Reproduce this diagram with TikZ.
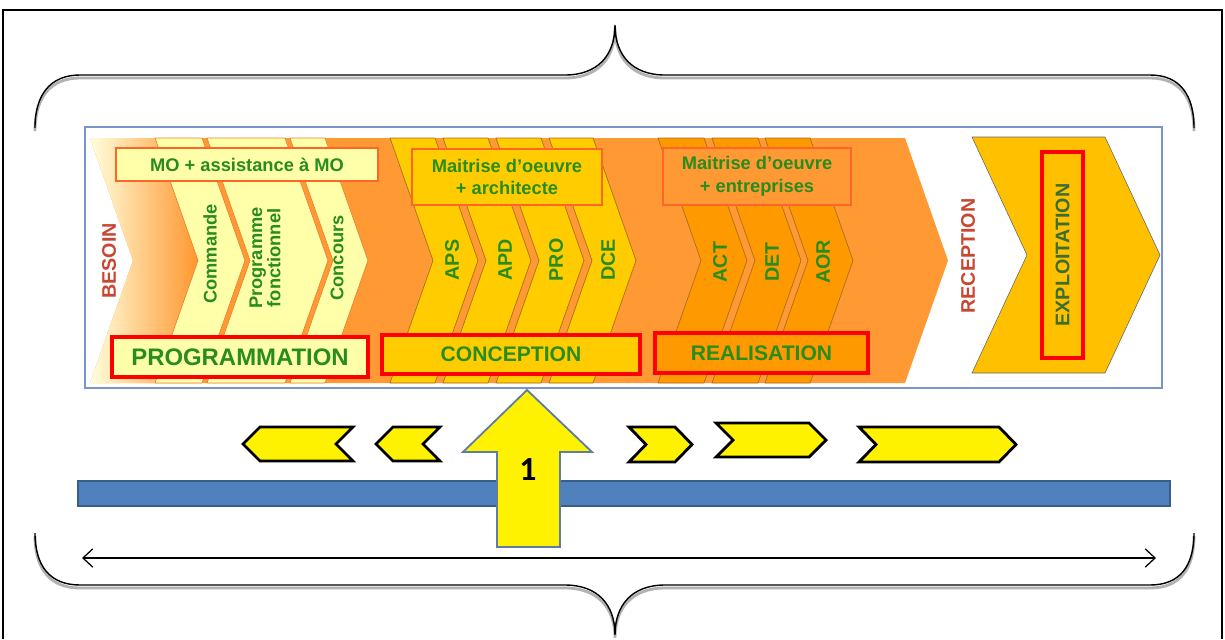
\documentclass[tikz,border=0pt]{standalone}
\usepackage{fontspec}
\setmainfont{Liberation Sans}
\newfontfamily\digitfont{Carlito}
\usetikzlibrary{arrows.meta,calc}

\definecolor{paleyel}{RGB}{255,255,170}
\definecolor{goldyel}{RGB}{255,204,0}
\definecolor{chevorange}{RGB}{255,153,0}
\definecolor{bgorange}{RGB}{255,153,51}
\definecolor{exploitgold}{RGB}{255,192,0}
\definecolor{labelgreen}{RGB}{40,140,30}
\definecolor{darkgreen}{RGB}{60,110,50}
\definecolor{brick}{RGB}{200,70,50}
\definecolor{framebl}{RGB}{120,150,200}
\definecolor{barblue}{RGB}{79,129,189}
\definecolor{barline}{RGB}{56,93,138}
\definecolor{actorline}{RGB}{255,100,40}
\definecolor{mopline}{RGB}{235,130,50}
\definecolor{chevline}{RGB}{170,110,30}

% chevron: [style]{left x}{right x}{top y}{bottom y}{depth}
\newcommand{\chev}[6][]{%
  \draw[#1] (#2,#4) -- (#3,#4) -- ({#3+#6},{(#4+#5)/2}) -- (#3,#5) -- (#2,#5) -- ({#2+#6},{(#4+#5)/2}) -- cycle;}

\begin{document}
\begin{tikzpicture}[
    x=0.025cm, y=-0.025cm,
    actorbox/.style={rectangle, draw=actorline, line width=0.8pt, text=labelgreen, font=\bfseries\fontsize{13}{16}\selectfont, align=center, inner sep=0pt},
    phasebox/.style={rectangle, draw=red, line width=2.4pt, text=labelgreen, font=\bfseries\fontsize{15}{18}\selectfont, inner sep=0pt},
    steplabel/.style={rotate=90, text=labelgreen, font=\bfseries\fontsize{13}{13}\selectfont, align=center},
    milestone/.style={rotate=90, text=brick, font=\bfseries\fontsize{14}{16}\selectfont},
    mopart/.style={fill=paleyel, draw=mopline, line width=0.5pt},
    moepart/.style={fill=goldyel, draw=chevline, line width=0.5pt},
    entpart/.style={fill=chevorange, draw=chevline, line width=0.5pt},
    hint/.style={fill=yellow, draw=black, line width=2pt},
    braceline/.style={line width=1pt},
    braceshadow/.style={line width=2pt, draw=black!30},
    spanarrow/.style={{Straight Barb[length=7pt,width=13pt]}-{Straight Barb[length=7pt,width=13pt]}, line width=0.9pt}
]
    \useasboundingbox (0,0) rectangle (1225,639);
    \fill[white] (0,0) rectangle (1225,639);
    \draw[line width=1.5pt] (3,639) -- (3,10) -- (1222,10) -- (1222,639);

    % braces
    \draw[braceshadow] (35,131) .. controls (35,98) and (50,78) .. (80,78) -- (565,78) .. controls (598,78) and (615,58) .. (615,28) .. controls (615,58) and (632,78) .. (665,78) -- (1150,78) .. controls (1180,78) and (1194,98) .. (1194,131);
    \draw[braceline] (35,128) .. controls (35,95) and (50,75) .. (80,75) -- (565,75) .. controls (598,75) and (615,55) .. (615,25) .. controls (615,55) and (632,75) .. (665,75) -- (1150,75) .. controls (1180,75) and (1194,95) .. (1194,128);
    \draw[braceshadow] (35,536) .. controls (35,569) and (50,588) .. (80,588) -- (565,588) .. controls (598,588) and (615,608) .. (615,638) .. controls (615,608) and (632,588) .. (665,588) -- (1150,588) .. controls (1180,588) and (1194,569) .. (1194,536);
    \draw[braceline] (35,533) .. controls (35,566) and (50,585) .. (80,585) -- (565,585) .. controls (598,585) and (615,605) .. (615,635) .. controls (615,605) and (632,585) .. (665,585) -- (1150,585) .. controls (1180,585) and (1194,566) .. (1194,533);

    % process band
    \begin{scope}
        \clip (90,138) -- (905,138) -- (948,260.5) -- (905,383) -- (90,383) -- (133,260.5) -- cycle;
        \fill[bgorange] (85,127) rectangle (1162,388);
        \shade[left color=paleyel!40, right color=bgorange] (90,138) rectangle (195,383);
    \end{scope}
    \chev[mopart]{155}{202}{138}{383}{43}
    \chev[mopart]{207}{285}{138}{383}{43}
    \chev[mopart]{290}{325}{138}{383}{43}
    \chev[moepart]{390}{435}{138}{383}{43}
    \chev[moepart]{443}{488}{138}{383}{43}
    \chev[moepart]{496}{541}{138}{383}{43}
    \chev[moepart]{549}{593}{138}{383}{43}
    \chev[entpart]{658}{704}{138}{383}{43}
    \chev[entpart]{712}{758}{138}{383}{43}
    \chev[entpart]{765}{810}{138}{383}{43}
    \chev[fill=exploitgold, draw=black!60, line width=0.4pt]{972}{1105}{137}{373}{55}

    \node[milestone] (besoin) at (109,261) {BESOIN};
    \node[milestone] (reception) at (968,256) {RECEPTION};
    \node[steplabel] (commande) at (210,254) {Commande};
    \node[steplabel] (progfonc) at (265,258) {Programme\\fonctionnel};
    \node[steplabel] (concours) at (337,258) {Concours};
    \node[steplabel, font=\bfseries\fontsize{14}{14}\selectfont] (aps) at (452,260) {APS};
    \node[steplabel, font=\bfseries\fontsize{14}{14}\selectfont] (apd) at (505,260) {APD};
    \node[steplabel, font=\bfseries\fontsize{14}{14}\selectfont] (pro) at (556,260) {PRO};
    \node[steplabel, font=\bfseries\fontsize{14}{14}\selectfont] (dce) at (608,260) {DCE};
    \node[steplabel, font=\bfseries\fontsize{14}{14}\selectfont] (act) at (720,262) {ACT};
    \node[steplabel, font=\bfseries\fontsize{14}{14}\selectfont] (det) at (772,262) {DET};
    \node[steplabel, font=\bfseries\fontsize{14}{14}\selectfont] (aor) at (823,262) {AOR};

    \node[actorbox, fill=paleyel, minimum width=6.55cm, minimum height=0.825cm] (mo) at (247,164.5) {MO + assistance à MO};
    \node[actorbox, fill=goldyel, minimum width=4.75cm, minimum height=1.4cm] (moearchi) at (507,177) {Maitrise d’oeuvre\\+ architecte};
    \node[actorbox, fill=bgorange, minimum width=4.7cm, minimum height=1.425cm] (moeent) at (757,176.5) {Maitrise d’oeuvre\\+ entreprises};

    \node[phasebox, fill=paleyel, minimum width=6.4cm, minimum height=1cm, font=\bfseries\fontsize{17}{18}\selectfont] (programmation) at (240,357) {PROGRAMMATION};
    \node[phasebox, fill=goldyel, minimum width=6.45cm, minimum height=0.975cm] (conception) at (511,354.5) {CONCEPTION};
    \node[phasebox, fill=chevorange, minimum width=5.325cm, minimum height=1cm] (realisation) at (761.5,353) {REALISATION};
    \node[phasebox, rotate=90, text=darkgreen, font=\bfseries\fontsize{14}{16}\selectfont, minimum width=5.15cm, minimum height=1.025cm] (exploitation) at (1062.5,255) {EXPLOITATION};

    \draw[framebl, line width=1.2pt] (85,127) rectangle (1162,388);

    % time line
    \chev[hint]{260}{353}{427}{461}{-17}
    \chev[hint]{393}{440}{427}{461}{-17}
    \chev[hint]{629}{675}{427}{462}{17}
    \chev[hint]{716}{809}{423}{457}{17}
    \chev[hint]{859}{999}{427}{462}{17}
    \draw[fill=barblue, draw=barline, line width=1pt] (78,481) rectangle (1170,506);
    \draw[fill=yellow, draw=barline!80, line width=1.3pt] (527,390) -- (592,452) -- (560,452) -- (560,547) -- (497,547) -- (497,452) -- (463,452) -- cycle;
    \node[font=\digitfont\bfseries\fontsize{24}{24}\selectfont] (step) at (528,470) {1};

    \coordinate (spanL) at (82,558);
    \coordinate (spanR) at (1156,558);
    \draw[spanarrow] (spanL) -- (spanR);
\end{tikzpicture}
\end{document}
